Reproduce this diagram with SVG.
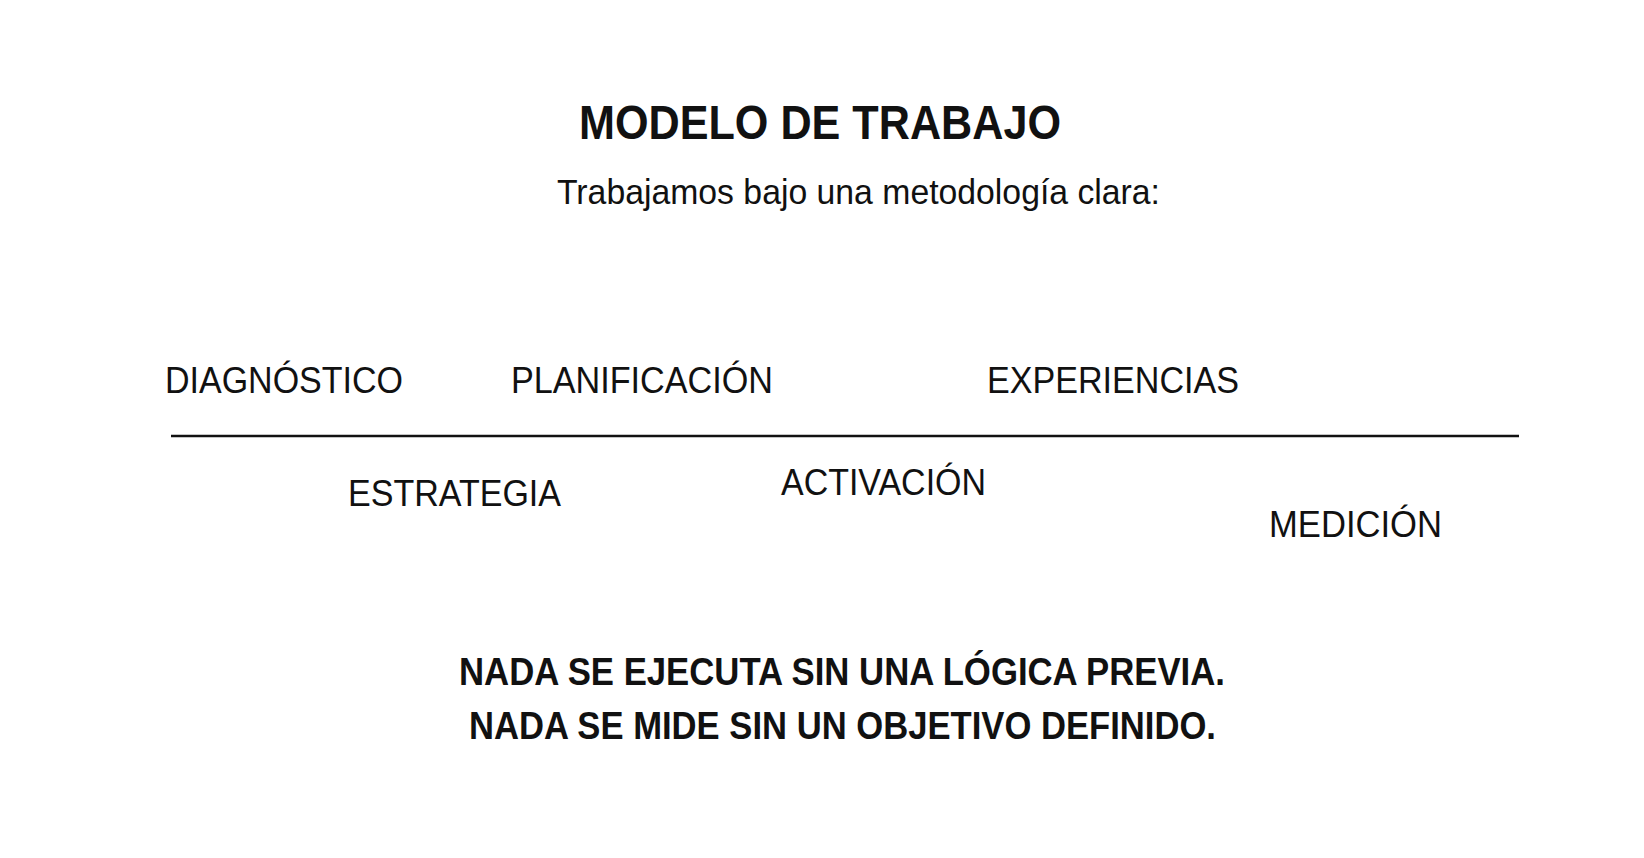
<svg xmlns="http://www.w3.org/2000/svg" width="1644" height="858" viewBox="0 0 1644 858">
<style>
.bg{fill:#ffffff}
.t{font-family:"Liberation Sans",Arial,Helvetica,sans-serif;fill:#111111}
.h{font-weight:bold;font-size:49px}
.s{font-size:35px}
.n{font-size:36px}
.b{font-weight:bold;font-size:39px}
.ln{stroke:#111111;stroke-width:2.5;fill:none}
</style>
<rect class="bg" x="0" y="0" width="1644" height="858"/>
<g id="title"><text class="t h" x="579" y="139" textLength="482" lengthAdjust="spacingAndGlyphs">MODELO DE TRABAJO</text></g>
<g id="subtitle"><text class="t s" x="557" y="204" textLength="603" lengthAdjust="spacingAndGlyphs">Trabajamos bajo una metodología clara:</text></g>
<g id="connectors"><line class="ln" x1="171" y1="436" x2="1519" y2="436"/></g>
<g id="diagnostico"><text class="t n" x="165" y="393" textLength="238" lengthAdjust="spacingAndGlyphs">DIAGNÓSTICO</text></g>
<g id="planificacion"><text class="t n" x="511" y="393" textLength="262" lengthAdjust="spacingAndGlyphs">PLANIFICACIÓN</text></g>
<g id="experiencias"><text class="t n" x="987" y="393" textLength="252" lengthAdjust="spacingAndGlyphs">EXPERIENCIAS</text></g>
<g id="estrategia"><text class="t n" x="348" y="506" textLength="213" lengthAdjust="spacingAndGlyphs">ESTRATEGIA</text></g>
<g id="activacion"><text class="t n" x="781" y="495" textLength="205" lengthAdjust="spacingAndGlyphs">ACTIVACIÓN</text></g>
<g id="medicion"><text class="t n" x="1269" y="537" textLength="173" lengthAdjust="spacingAndGlyphs">MEDICIÓN</text></g>
<g id="footer1"><text class="t b" x="459" y="685" textLength="766" lengthAdjust="spacingAndGlyphs">NADA SE EJECUTA SIN UNA LÓGICA PREVIA.</text></g>
<g id="footer2"><text class="t b" x="469" y="739" textLength="747" lengthAdjust="spacingAndGlyphs">NADA SE MIDE SIN UN OBJETIVO DEFINIDO.</text></g>
</svg>
